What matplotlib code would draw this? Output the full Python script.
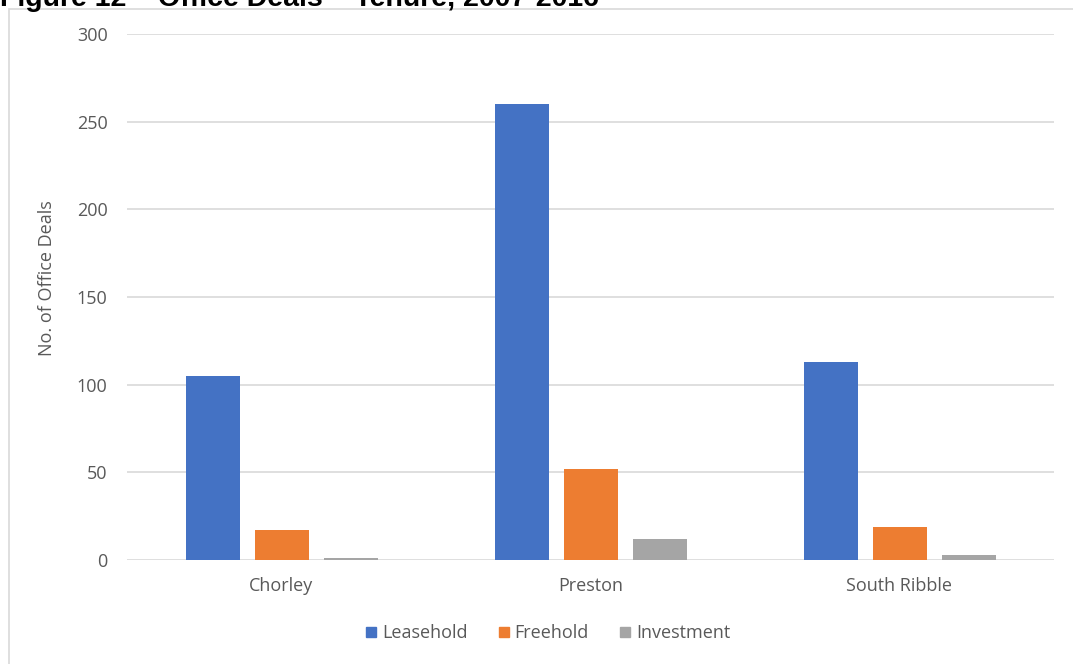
import matplotlib
matplotlib.use("Agg")
import matplotlib.pyplot as plt
from matplotlib.patches import Rectangle
from matplotlib.lines import Line2D
import numpy as np

categories = ["Chorley", "Preston", "South Ribble"]
series_names = ["Leasehold", "Freehold", "Investment"]
leasehold = [105, 260, 113]
freehold = [17, 52, 19]
investment = [1, 12, 3]
colors = ["#4472C4", "#ED7D31", "#A5A5A5"]
yticks = [0, 50, 100, 150, 200, 250, 300]

W, H = 1073, 664
fig = plt.figure(figsize=(W / 100, H / 100), dpi=100)
font = "Open Sans"
txt_color = "#595959"
fs = 13

# outer chart border
fig.patches.append(Rectangle((8.5 / W, -0.1), 2, 1 - 8.5 / H + 0.1,
                             transform=fig.transFigure, fill=False,
                             edgecolor="#d9d9d9", linewidth=1.2, zorder=0))

# title (cut off at the top edge, as in the reference)
fig.text(0.0, 1 - 6.5 / H, "Figure 12 \u2013 Office Deals \u2013 Tenure, 2007-2016",
         ha="left", va="baseline", fontsize=20.5, fontweight="bold",
         family="Liberation Sans", color="black")

left, right = 127 / W, 1054 / W
bottom, top = 1 - 560 / H, 1 - 34 / H
ax = fig.add_axes([left, bottom, right - left, top - bottom])

x = np.arange(len(categories))
width = 54 / 309
step = 69 / 309
data = [leasehold, freehold, investment]
for i, (name, vals, c) in enumerate(zip(series_names, data, colors)):
    ax.bar(x + (i - 1) * step, vals, width, color=c, label=name, zorder=3)

ax.set_xlim(-0.5, 2.5)
ax.set_ylim(0, 300)
ax.set_yticks(yticks)
ax.set_xticks(x)
ax.set_xticklabels(categories, family=font, fontsize=fs, color=txt_color)
for lab in ax.get_yticklabels():
    lab.set_family(font)
    lab.set_fontsize(fs)
    lab.set_color(txt_color)
ax.tick_params(axis="both", length=0)
ax.tick_params(axis="y", pad=14)
ax.tick_params(axis="x", pad=12)
ax.grid(axis="y", color="#d9d9d9", linewidth=1.2, zorder=0)
for s in ax.spines.values():
    s.set_visible(False)
ax.set_ylabel("No. of Office Deals", family=font, fontsize=fs, color=txt_color)
ax.yaxis.set_label_coords((56 - 127) / (1054 - 127), (560 - 278) / 526)

handles = [Line2D([], [], marker="s", linestyle="none", markersize=6.5,
                  markerfacecolor=c, markeredgecolor=c) for c in colors]
leg = fig.legend(handles, series_names, loc="center", ncol=3,
                 bbox_to_anchor=(548 / W, 1 - 633 / H), frameon=False,
                 prop={"family": font, "size": fs}, handletextpad=0.3,
                 columnspacing=1.7, handlelength=0.6)
for t in leg.get_texts():
    t.set_color(txt_color)

fig.savefig("out.png", dpi=100, facecolor="white")
